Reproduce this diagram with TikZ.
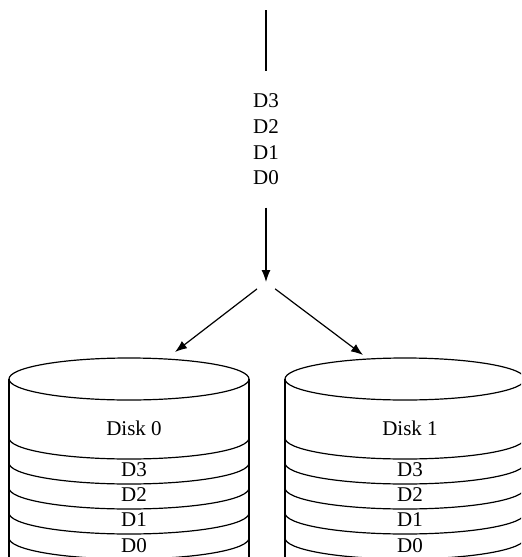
\documentclass[tikz,border=0pt]{standalone}
\usepackage{fontspec}
\setmainfont{Liberation Serif}
\usetikzlibrary{arrows.meta}
\tikzset{
  feed/.style={-{Latex[length=6pt,width=4.5pt]}},
  disklabel/.style={font=\fontsize{10.5}{12.8}\selectfont, inner sep=0pt},
}
\begin{document}
\begin{tikzpicture}[x=0.5pt, y=-0.5pt, line width=0.6pt]
    \clip (0,0) rectangle (521,557);
    % data coming in
    \coordinate (in) at (266,10);
    \node[disklabel, align=center, inner xsep=2pt, inner ysep=11pt] (stack) at (266,139.5) {D3\\D2\\D1\\D0};
    \coordinate (split) at (266,282);
    \coordinate (top0) at (175,352);
    \coordinate (top1) at (363,355);
    \draw (in) -- (stack.north);
    \draw[feed] (stack.south) -- (split);
    \draw[feed, shorten <=5.7pt] (split) -- (top0);
    \draw[feed, shorten <=5.7pt] (split) -- (top1);
    % the two disks
    \foreach \cx/\n in {129/0, 405/1} {
        \draw (\cx,379) ellipse [x radius=60pt, y radius=10.5pt];
        \draw (\cx-120,379) -- (\cx-120,570);
        \draw (\cx+120,379) -- (\cx+120,570);
        \foreach \y in {438,463,488,513,538}
            \draw (\cx-120,\y) arc [start angle=180, end angle=360, x radius=60pt, y radius=10.5pt];
        \node[disklabel] (disk\n) at (\cx+5,428) {Disk \n};
        \foreach \k/\y in {3/470,2/495,1/520,0/546}
            \node[disklabel] (d\n-\k) at (\cx+5,\y) {D\k};
    }
\end{tikzpicture}
\end{document}
